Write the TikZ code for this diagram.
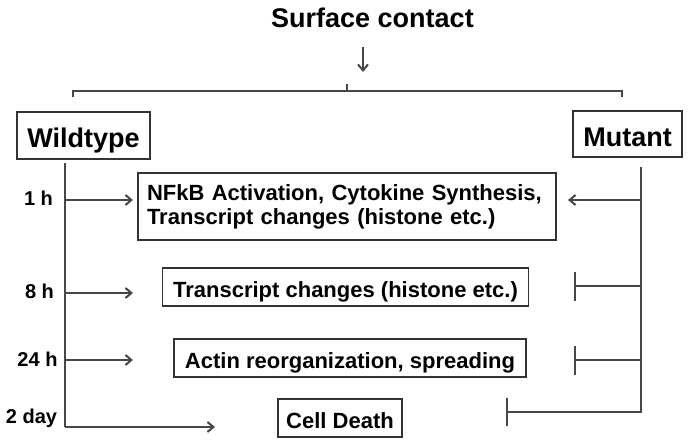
\documentclass[tikz,border=0pt]{standalone}
\usepackage{fontspec}
\setmainfont{Liberation Sans}
\usetikzlibrary{arrows.meta}
\begin{document}
\begin{tikzpicture}[x=1pt,y=-1pt,
  line/.style={line width=1.8pt, draw=black!72},
  arr/.style={line, -{Straight Barb[length=6pt,width=10pt,line width=2pt]}},
  inh/.style={line, -{Bar[width=29pt,line width=2pt]}},
  boxbase/.style={draw=black!80, line width=1.6pt, inner sep=0pt,
    font=\bfseries\fontsize{22}{24}\selectfont},
  box/.style={boxbase, text height=20pt, text depth=0pt, minimum height=38pt},
  head/.style={draw=black!80, line width=1.6pt, inner sep=0pt,
    font=\bfseries\fontsize{27}{30}\selectfont, text height=25pt, text depth=0pt},
  tlabel/.style={font=\bfseries\fontsize{20}{22}\selectfont, anchor=base, inner sep=0pt},
]
\useasboundingbox (0,0) rectangle (690,446);

% title and arrow
\node[font=\bfseries\fontsize{27}{30}\selectfont, anchor=base, inner sep=0pt] (sc) at (372.5,28) {Surface contact};
\coordinate (sctop) at (363,47);
\coordinate (sctip) at (363,72);
\draw[arr] (sctop) -- (sctip);

% bracket
\coordinate (bl) at (73,97);
\coordinate (bm) at (347,91);
\coordinate (br) at (622,97);
\coordinate (bmt) at (347,84);
\draw[line] (bl) |- (bm) -| (br);
\draw[line] (bm) -- (bmt);

% header boxes
\node[head, minimum width=133pt, minimum height=47pt] (wt) at (83.5,135.5) {Wildtype};
\node[head, minimum width=109pt, minimum height=46pt] (mut) at (627.5,134) {Mutant};

% event boxes
\node[boxbase, align=left, text width=400pt, inner xsep=9pt, inner ysep=0pt,
      minimum height=67pt] (b1) at (347,206.5)
      {NFkB Activation, Cytokine Synthesis,\\Transcript changes (histone etc.)};
\node[box, minimum width=366pt] (b2) at (345.5,287) {Transcript changes (histone etc.)};
\node[box, minimum width=352pt] (b3) at (350,358) {Actin reorganization, spreading};
\node[box, minimum width=124pt] (b4) at (340,418) {Cell Death};

% time labels
\node[tlabel] (t1) at (38.5,206) {1 h};
\node[tlabel] (t8) at (39.5,298) {8 h};
\node[tlabel] (t24) at (37.5,366) {24 h};
\node[tlabel] (t2) at (31.5,423) {2 day};

% wildtype timeline
\coordinate (wtt) at (65,163);
\coordinate (wtb) at (65,427);
\draw[line] (wtt) -- (wtb);
\coordinate (w1s) at (65,200);  \coordinate (w1e) at (133,200);
\coordinate (w2s) at (65,293);  \coordinate (w2e) at (133,293);
\coordinate (w3s) at (65,360);  \coordinate (w3e) at (133,360);
\coordinate (w4e) at (215,427);
\draw[arr] (w1s) -- (w1e);
\draw[arr] (w2s) -- (w2e);
\draw[arr] (w3s) -- (w3e);
\draw[arr] (wtb) -- (w4e);

% mutant timeline
\coordinate (mt) at (641,167);
\coordinate (mc) at (641,412);
\coordinate (me) at (506,412);
\draw[line, -{Bar[width=28pt,line width=2pt]}] (mt) -- (mc) -- (me);
\coordinate (m1s) at (641,200);  \coordinate (m1e) at (568,200);
\coordinate (m2s) at (641,286);  \coordinate (m2e) at (574,286);
\coordinate (m3s) at (641,360);  \coordinate (m3e) at (574,360);
\draw[arr] (m1s) -- (m1e);
\draw[inh] (m2s) -- (m2e);
\draw[inh] (m3s) -- (m3e);
\end{tikzpicture}
\end{document}
